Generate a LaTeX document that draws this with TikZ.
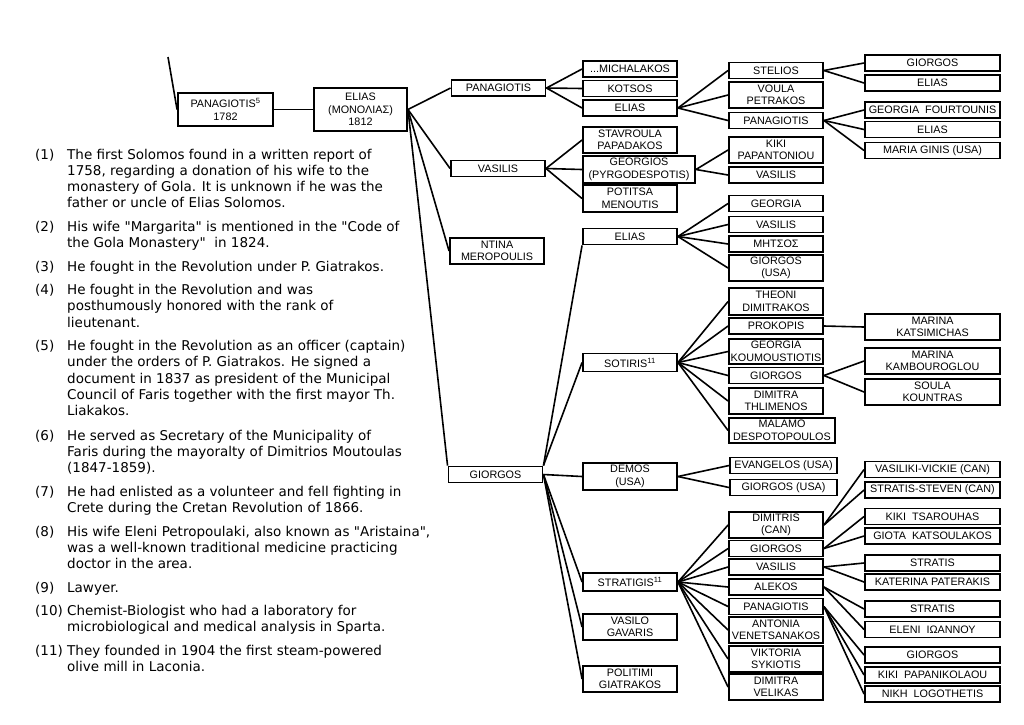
\documentclass[tikz,border=0pt]{standalone}
\usepackage{fontspec}
\newfontfamily\boxfont{Liberation Sans}
\newfontfamily\notefont{DejaVu Sans}
\begin{document}
\begin{tikzpicture}[x=1pt,y=-1pt,
  pbox/.style={draw, line width=1.9pt, minimum width=94pt, minimum height=16pt, inner xsep=1pt, inner ysep=0pt, align=center, font=\boxfont\fontsize{10.8}{12.5}\selectfont},
  dbl/.style={minimum height=26pt},
  wide/.style={minimum width=135pt},
  conn/.style={line width=1.6pt},
  note/.style={anchor=base west, inner sep=0pt, font=\notefont\fontsize{13.5}{16.3}\selectfont}]
\useasboundingbox (0,0) rectangle (1024,724);

% ---------- generations 1-2 ----------
\coordinate (top) at (168,57);
\node[pbox, minimum width=95pt, minimum height=33pt] (pan5) at (225.5,109.5) {PANAGIOTIS\textsuperscript{5}\\1782};
\node[pbox, minimum width=93pt, minimum height=43pt] (elias0) at (360.5,109.5) {ELIAS\\(ΜΟΝΟΛΙΑΣ)\\1812};

% ---------- generation 3 ----------
\node[pbox] (g3pan) at (498.5,88) {PANAGIOTIS};
\node[pbox] (g3vas) at (498,168.5) {VASILIS};
\node[pbox, dbl] (g3nt) at (497,251) {NTINA\\MEROPOULIS};
\node[pbox] (g3gio) at (495.5,474.5) {GIORGOS};

% ---------- generation 4 ----------
\node[pbox] (mich) at (630,69) {...MICHALAKOS};
\node[pbox] (kots) at (630,88.5) {KOTSOS};
\node[pbox] (eliA) at (630,108) {ELIAS};
\node[pbox, dbl] (stav) at (630,140) {STAVROULA\\PAPADAKOS};
\node[pbox, minimum width=112pt, minimum height=27pt] (geor) at (639,169.5) {GEORGIOS\\(PYRGODESPOTIS)};
\node[pbox, minimum height=27pt] (poti) at (630,198.5) {POTITSA\\MENOUTIS};
\node[pbox] (eliB) at (630,236.5) {ELIAS};
\node[pbox, minimum height=18pt] (soti) at (630,362.5) {SOTIRIS\textsuperscript{11}};
\node[pbox, minimum height=27pt] (demo) at (630,476.5) {DEMOS\\(USA)};
\node[pbox, minimum height=18pt] (stra) at (630,582) {STRATIGIS\textsuperscript{11}};
\node[pbox, dbl] (vaso) at (630,627) {VASILO\\GAVARIS};
\node[pbox, dbl] (poli) at (630,679) {POLITIMI\\GIATRAKOS};

% ---------- generation 5 ----------
\node[pbox] (stel) at (776,70.5) {STELIOS};
\node[pbox, dbl] (voul) at (776,95) {VOULA\\PETRAKOS};
\node[pbox] (panB) at (776,120.5) {PANAGIOTIS};
\node[pbox, dbl] (kiki) at (776,150) {KIKI\\PAPANTONIOU};
\node[pbox] (vasB) at (776,175) {VASILIS};
\node[pbox] (geoa) at (776,203.5) {GEORGIA};
\node[pbox] (vasC) at (776,224.5) {VASILIS};
\node[pbox] (mits) at (776,244) {ΜΗΤΣΟΣ};
\node[pbox, dbl] (gioU) at (776,268) {GIORGOS\\(USA)};
\node[pbox, minimum height=27pt] (theo) at (776,301.5) {THEONI\\DIMITRAKOS};
\node[pbox] (prok) at (776,326) {PROKOPIS};
\node[pbox, minimum height=25pt] (geok) at (776,351.5) {GEORGIA\\KOUMOUSTIOTIS};
\node[pbox] (gioS) at (776,375.5) {GIORGOS};
\node[pbox, dbl] (dimT) at (776,401) {DIMITRA\\THLIMENOS};
\node[pbox, minimum width=106pt, minimum height=25pt] (mala) at (782,430.5) {MALAMO\\DESPOTOPOULOS};
\node[pbox, minimum width=107pt] (evan) at (783.5,465.5) {EVANGELOS (USA)};
\node[pbox, minimum width=107pt] (gioD) at (783.5,487.5) {GIORGOS (USA)};
\node[pbox, dbl] (dimC) at (776,525) {DIMITRIS\\(CAN)};
\node[pbox] (gioT) at (776,548.5) {GIORGOS};
\node[pbox] (vasT) at (776,567) {VASILIS};
\node[pbox] (alek) at (776,587) {ALEKOS};
\node[pbox] (panT) at (776,606.5) {PANAGIOTIS};
\node[pbox, dbl] (anto) at (776,630) {ANTONIA\\VENETSANAKOS};
\node[pbox, dbl] (vikt) at (776,659) {VIKTORIA\\SYKIOTIS};
\node[pbox, dbl] (dimV) at (776,687) {DIMITRA\\VELIKAS};

% ---------- generation 6 ----------
\node[pbox, wide] (g6a) at (932.5,63) {GIORGOS};
\node[pbox, wide] (g6b) at (932.5,83) {ELIAS};
\node[pbox, wide] (g6c) at (932.5,110) {GEORGIA\ \ FOURTOUNIS};
\node[pbox, wide] (g6d) at (932.5,129.5) {ELIAS};
\node[pbox, wide] (g6e) at (932.5,150.5) {MARIA GINIS (USA)};
\node[pbox, wide, dbl] (g6f) at (932.5,327) {MARINA\\KATSIMICHAS};
\node[pbox, wide, dbl] (g6g) at (932.5,361) {MARINA\\KAMBOUROGLOU};
\node[pbox, wide, dbl] (g6h) at (932.5,392) {SOULA\\KOUNTRAS};
\node[pbox, wide] (g6i) at (932.5,469.5) {VASILIKI-VICKIE (CAN)};
\node[pbox, wide] (g6j) at (932.5,490) {STRATIS-STEVEN (CAN)};
\node[pbox, wide] (g6k) at (932.5,516.5) {KIKI\ \ TSAROUHAS};
\node[pbox, wide] (g6l) at (932.5,536) {GIOTA\ \ KATSOULAKOS};
\node[pbox, wide] (g6m) at (932.5,563) {STRATIS};
\node[pbox, wide] (g6n) at (932.5,582) {KATERINA PATERAKIS};
\node[pbox, wide] (g6o) at (932.5,609) {STRATIS};
\node[pbox, wide] (g6p) at (932.5,629.5) {ELENI\ \ ΙΩΑΝΝΟΥ};
\node[pbox, wide] (g6q) at (932.5,655) {GIORGOS};
\node[pbox, wide] (g6r) at (932.5,675) {KIKI\ \ PAPANIKOLAOU};
\node[pbox, wide] (g6s) at (932.5,694) {NIKH\ \ LOGOTHETIS};

% ---------- connectors ----------
\draw[conn] (top) -- (pan5.west);
\draw[conn] (pan5.east) -- (elias0.west);
\foreach \c in {g3pan,g3vas,g3nt} \draw[conn] (elias0.east) -- (\c.west);
\draw[conn] (elias0.east) -- (g3gio.north west);
\foreach \c in {mich,kots,eliA} \draw[conn] (g3pan.east) -- (\c.west);
\foreach \c in {stav,geor,poti} \draw[conn] (g3vas.east) -- (\c.west);
\draw[conn] (g3gio.north east) -- (eliB.south west);
\draw[conn] (g3gio.north east) -- (soti.west);
\foreach \c in {demo,stra,vaso,poli} \draw[conn] (g3gio.east) -- (\c.west);
\foreach \c in {stel,voul,panB} \draw[conn] (eliA.east) -- (\c.west);
\foreach \c in {kiki,vasB} \draw[conn] (geor.east) -- (\c.west);
\foreach \c in {geoa,vasC,mits,gioU} \draw[conn] (eliB.east) -- (\c.west);
\foreach \c in {theo,prok,geok,gioS,dimT,mala} \draw[conn] (soti.east) -- (\c.west);
\foreach \c in {evan,gioD} \draw[conn] (demo.east) -- (\c.west);
\foreach \c in {dimC,gioT,vasT,alek,panT,anto,vikt,dimV} \draw[conn] (stra.east) -- (\c.west);
\foreach \c in {g6a,g6b} \draw[conn] (stel.east) -- (\c.west);
\foreach \c in {g6c,g6d,g6e} \draw[conn] (panB.east) -- (\c.west);
\draw[conn] (prok.east) -- (g6f.west);
\foreach \c in {g6g,g6h} \draw[conn] (gioS.east) -- (\c.west);
\foreach \c in {g6i,g6j} \draw[conn] (dimC.east) -- (\c.west);
\foreach \c in {g6k,g6l} \draw[conn] (gioT.east) -- (\c.west);
\foreach \c in {g6m,g6n} \draw[conn] (vasT.east) -- (\c.west);
\foreach \c in {g6o,g6p} \draw[conn] (alek.east) -- (\c.west);
\foreach \c in {g6q,g6r,g6s} \draw[conn] (panT.east) -- (\c.west);

% ---------- footnotes ----------
\node[note] (k1) at (35,159) {(1)};
\node[note] (t1) at (67,159) {\begin{tabular}[t]{@{}l@{}}The first Solomos found in a written report of\\1758, regarding a donation of his wife to the\\monastery of Gola. It is unknown if he was the\\father or uncle of Elias Solomos.\end{tabular}};
\node[note] (k2) at (35,231.5) {(2)};
\node[note] (t2) at (67,231.5) {\begin{tabular}[t]{@{}l@{}}His wife "Margarita" is mentioned in the "Code of\\the Gola Monastery"\ \ in 1824.\end{tabular}};
\node[note] (k3) at (35,271.5) {(3)};
\node[note] (t3) at (67,271.5) {He fought in the Revolution under P. Giatrakos.};
\node[note] (k4) at (35,294.5) {(4)};
\node[note] (t4) at (67,294.5) {\begin{tabular}[t]{@{}l@{}}He fought in the Revolution and was\\posthumously honored with the rank of\\lieutenant.\end{tabular}};
\node[note] (k5) at (35,350.5) {(5)};
\node[note] (t5) at (67,350.5) {\begin{tabular}[t]{@{}l@{}}He fought in the Revolution as an officer (captain)\\under the orders of P. Giatrakos. He signed a\\document in 1837 as president of the Municipal\\Council of Faris together with the first mayor Th.\\Liakakos.\end{tabular}};
\node[note] (k6) at (35,440) {(6)};
\node[note] (t6) at (67,440) {\begin{tabular}[t]{@{}l@{}}He served as Secretary of the Municipality of\\Faris during the mayoralty of Dimitrios Moutoulas\\(1847-1859).\end{tabular}};
\node[note] (k7) at (35,496) {(7)};
\node[note] (t7) at (67,496) {\begin{tabular}[t]{@{}l@{}}He had enlisted as a volunteer and fell fighting in\\Crete during the Cretan Revolution of 1866.\end{tabular}};
\node[note] (k8) at (35,536) {(8)};
\node[note] (t8) at (67,536) {\begin{tabular}[t]{@{}l@{}}His wife Eleni Petropoulaki, also known as "Aristaina",\\was a well-known traditional medicine practicing\\doctor in the area.\end{tabular}};
\node[note] (k9) at (35,592.5) {(9)};
\node[note] (t9) at (67,592.5) {Lawyer.};
\node[note] (k10) at (35,615.5) {(10)};
\node[note] (t10) at (67,615.5) {\begin{tabular}[t]{@{}l@{}}Chemist-Biologist who had a laboratory for\\microbiological and medical analysis in Sparta.\end{tabular}};
\node[note] (k11) at (35,655.5) {(11)};
\node[note] (t11) at (67,655.5) {\begin{tabular}[t]{@{}l@{}}They founded in 1904 the first steam-powered\\olive mill in Laconia.\end{tabular}};
\end{tikzpicture}
\end{document}
